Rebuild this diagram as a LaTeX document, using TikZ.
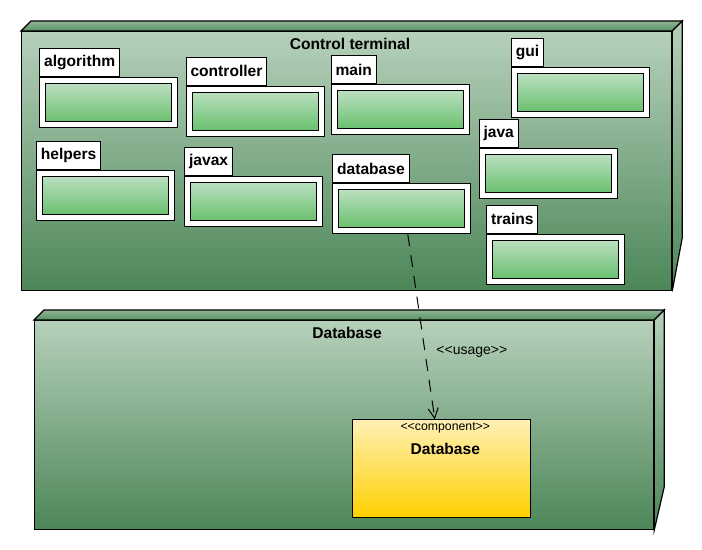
\documentclass[tikz,border=0pt]{standalone}
\usepackage{fontspec}
\setmainfont{Liberation Sans}
\usetikzlibrary{arrows.meta,calc}
\definecolor{faceTop}{HTML}{B6D0BA}
\definecolor{faceBot}{HTML}{4C8658}
\definecolor{capTop}{HTML}{8FB596}
\definecolor{capBot}{HTML}{5A9065}
\definecolor{pkgTop}{HTML}{BADFC0}
\definecolor{pkgBot}{HTML}{6AC06E}
\definecolor{compTop}{HTML}{FFF0B4}
\definecolor{compBot}{HTML}{FFD000}
\tikzset{
  frontface/.style={draw, line width=1.2bp, top color=faceTop, bottom color=faceBot, inner sep=0, anchor=north west},
  capface/.style={draw, line width=1.2bp, top color=capTop, bottom color=capBot},
  sideface/.style={draw, line width=1.2bp, top color=faceTop, bottom color=faceBot},
  title/.style={font=\fontsize{15.6bp}{17bp}\selectfont\bfseries, inner sep=0},
  pkgbody/.style={draw, fill=white, line width=1bp, minimum width=138bp, minimum height=50bp, inner sep=0, anchor=north west},
  pkginner/.style={draw, line width=1bp, top color=pkgTop, bottom color=pkgBot, minimum width=126bp, minimum height=38bp, inner sep=0},
  pkgtab/.style={draw, fill=white, line width=1bp, minimum height=28bp, inner xsep=4.3bp, inner ysep=0, anchor=south west, font=\fontsize{15.6bp}{17bp}\selectfont\bfseries},
  compbox/.style={draw, line width=1bp, top color=compTop, bottom color=compBot, minimum width=178bp, minimum height=98bp, inner sep=0, anchor=north west},
  usage/.style={line width=1bp, dash pattern=on 12bp off 9bp, -{Straight Barb[length=10bp,width=10bp,line width=1bp]}},
}
\newcommand{\pkgnode}[4]{%
  \node[pkgbody] (#1b) at (#2,#3) {};
  \node[pkginner] (#1i) at (#1b.center) {};
  \node[pkgtab] (#1t) at (#1b.north west) {#4};
}
\begin{document}
\begin{tikzpicture}[x=1bp,y=-1bp]
\useasboundingbox (0,0) rectangle (702,550);
% Control terminal node
\node[frontface, minimum width=650bp, minimum height=259bp] (ctrl) at (21,31) {};
\draw[capface] (ctrl.north west) -- ++(10,-10) -- ($(ctrl.north east)+(10,-10)$) -- (ctrl.north east) -- cycle;
\draw[sideface] (ctrl.north east) -- ++(10,-10) -- ($(ctrl.north east)+(10,207)$) -- (ctrl.south east) -- cycle;
\node[title] (ctitle) at (350,44) {Control terminal};
% Database node
\node[frontface, minimum width=619bp, minimum height=209bp] (dbn) at (34,320) {};
\draw[capface] (dbn.north west) -- ++(10,-10) -- ($(dbn.north east)+(10,-10)$) -- (dbn.north east) -- cycle;
\draw[sideface] (dbn.north east) -- ++(10,-10) -- ($(dbn.north east)+(10,167)$) -- (dbn.south east) -- cycle;
\node[title] (dtitle) at (347,333) {Database};
% packages
\pkgnode{alg}{39.3}{77.3}{algorithm}
\pkgnode{ctl}{185.7}{85.7}{controller}
\pkgnode{mn}{330.7}{84.3}{main}
\pkgnode{gui}{511}{67.3}{gui}
\pkgnode{hlp}{36}{170.3}{helpers}
\pkgnode{jvx}{184.3}{176.3}{javax}
\pkgnode{db}{332.3}{183.3}{database}
\pkgnode{jv}{478.7}{148.3}{java}
\pkgnode{trn}{486.3}{233.7}{trains}
% component
\node[compbox] (comp) at (352.3,419.3) {};
\node[inner sep=0, font=\fontsize{12.3bp}{14bp}\selectfont] (compst) at ($(comp.north)+(3.5,8.5)$) {<\kern0pt<component>\kern0pt>};
\node[title] (compname) at ($(comp.north)+(3.5,30)$) {Database};
% usage dependency
\draw[usage] ($(dbb.south)+(6,0)$) -- ($(comp.north)+(-7,0)$)
  node[pos=0.634, anchor=west, inner sep=0, xshift=11bp, font=\fontsize{14bp}{16bp}\selectfont] (ulabel) {<\kern0pt<usage>\kern0pt>};
\end{tikzpicture}
\end{document}
